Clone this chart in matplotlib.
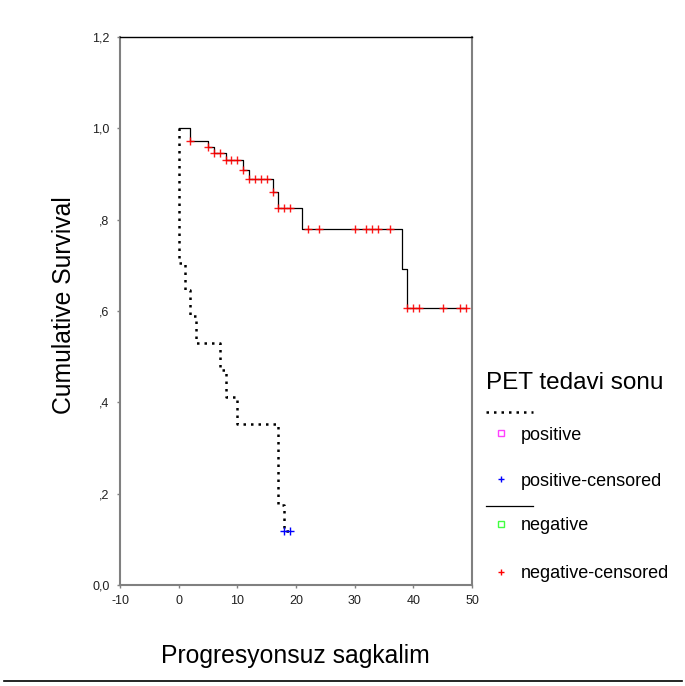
import numpy as np
import matplotlib
matplotlib.use("Agg")
import matplotlib.pyplot as plt
from matplotlib.lines import Line2D

plt.rcParams['font.family'] = ['Liberation Sans', 'DejaVu Sans']

# —— Kaplan-Meier data read off the picture ——
# PET negative (solid line)
neg_event_t = [0, 2, 5, 6, 8, 11, 12, 16, 17, 21, 38, 39]
neg_surv    = [1.0, 0.973, 0.960, 0.947, 0.931, 0.909, 0.888, 0.861, 0.826, 0.780, 0.693, 0.606]
neg_end_t   = 49
neg_cens_t  = [2, 5, 6, 7, 8, 9, 10, 11, 12, 13, 14, 15, 16, 17, 18, 19,
               22, 24, 30, 32, 33, 34, 36, 39, 40, 41, 45, 48, 49]

# PET positive (dotted line)
pos_event_t = [0, 1, 2, 3, 7, 8, 10, 17, 18]
pos_surv    = [0.706, 0.647, 0.588, 0.529, 0.471, 0.412, 0.353, 0.176, 0.118]
pos_end_t   = 19
pos_cens_t  = [18, 19]

x_ticks = [-10, 0, 10, 20, 30, 40, 50]
y_ticks = [0.0, 0.2, 0.4, 0.6, 0.8, 1.0, 1.2]
y_tick_labels = ["0,0", ",2", ",4", ",6", ",8", "1,0", "1,2"]

legend_title = "PET tedavi sonu"
legend_labels = ["positive", "positive-censored", "negative", "negative-censored"]

GRAY = "#808080"
DOTS = (0, (1, 2))


def step_xy(event_t, surv, end_t):
    xs = [0] + list(event_t) + [end_t]
    ys = [1.0] + list(surv) + [surv[-1]]
    return xs, ys


def surv_at(t, event_t, surv):
    val = 1.0
    for et, s in zip(event_t, surv):
        if et <= t:
            val = s
    return val


fig = plt.figure(figsize=(6.85, 6.86), dpi=100)
ax = fig.add_axes([120 / 685, 1 - 585 / 686, 352 / 685, 548 / 686])

# curves
nx, ny = step_xy(neg_event_t, neg_surv, neg_end_t)
ax.plot(nx, ny, drawstyle='steps-post', color='black', lw=0.9)
px, py = step_xy(pos_event_t, pos_surv, pos_end_t)
ax.plot(px, py, drawstyle='steps-post', color='black', lw=1.8,
        linestyle=DOTS, dash_capstyle='butt')

# censor marks
ax.plot(neg_cens_t, [surv_at(t, neg_event_t, neg_surv) for t in neg_cens_t],
        '+', color='red', ms=5.5, mew=1.0, alpha=0.9)
ax.plot(pos_cens_t, [surv_at(t, pos_event_t, pos_surv) for t in pos_cens_t],
        '+', color='blue', ms=6, mew=1.0)

ax.set_xlim(-10, 50)
ax.set_ylim(0, 1.2)
ax.set_xticks(x_ticks)
ax.set_xticklabels([str(v) for v in x_ticks])
ax.set_yticks(y_ticks)
ax.set_yticklabels(y_tick_labels)
ax.tick_params(direction='out', length=2.5, width=1, color=GRAY,
               labelsize=9, labelcolor='#202020', pad=5)

for side in ['left', 'right', 'bottom']:
    ax.spines[side].set_color(GRAY)
    ax.spines[side].set_linewidth(1.5)
ax.spines['top'].set_color('black')
ax.spines['top'].set_linewidth(1.0)

# axis labels
fig.text(64 / 685, 1 - 305 / 686, "Cumulative Survival", rotation=90,
         ha='center', va='center', fontsize=17.8)
fig.text(295 / 685, 1 - 656 / 686, "Progresyonsuz sagkalim",
         ha='center', va='center', fontsize=17.8)

# legend, drawn outside the axes
def fx(p):
    return p / 685


def fy(p):
    return 1 - p / 686


fig.text(fx(486), fy(383), legend_title, ha='left', va='center', fontsize=17.5)
fig.add_artist(Line2D([fx(486), fx(533)], [fy(411.5), fy(411.5)], color='black',
                      lw=1.8, linestyle=DOTS, dash_capstyle='butt'))
fig.add_artist(Line2D([fx(486), fx(533)], [fy(505.5), fy(505.5)], color='black', lw=0.9))

legend_marks = [('s', '#ff40ff', 'none'), ('+', 'blue', 'blue'),
                ('s', '#40ff40', 'none'), ('+', 'red', 'red')]
legend_y = [433, 479, 524, 572]
for (mk, ec, fc), yy, lab in zip(legend_marks, legend_y, legend_labels):
    fig.add_artist(Line2D([fx(501)], [fy(yy)], marker=mk, ms=4 if mk == 's' else 5,
                          mec=ec, mfc=fc, mew=1.0, linestyle='none'))
    fig.text(fx(521), fy(yy + 2), lab, ha='left', va='center', fontsize=13)

# rule across the bottom
fig.add_artist(Line2D([fx(4), fx(682)], [fy(681), fy(681)], color='black', lw=1.2))

fig.savefig("out.png", dpi=100)
